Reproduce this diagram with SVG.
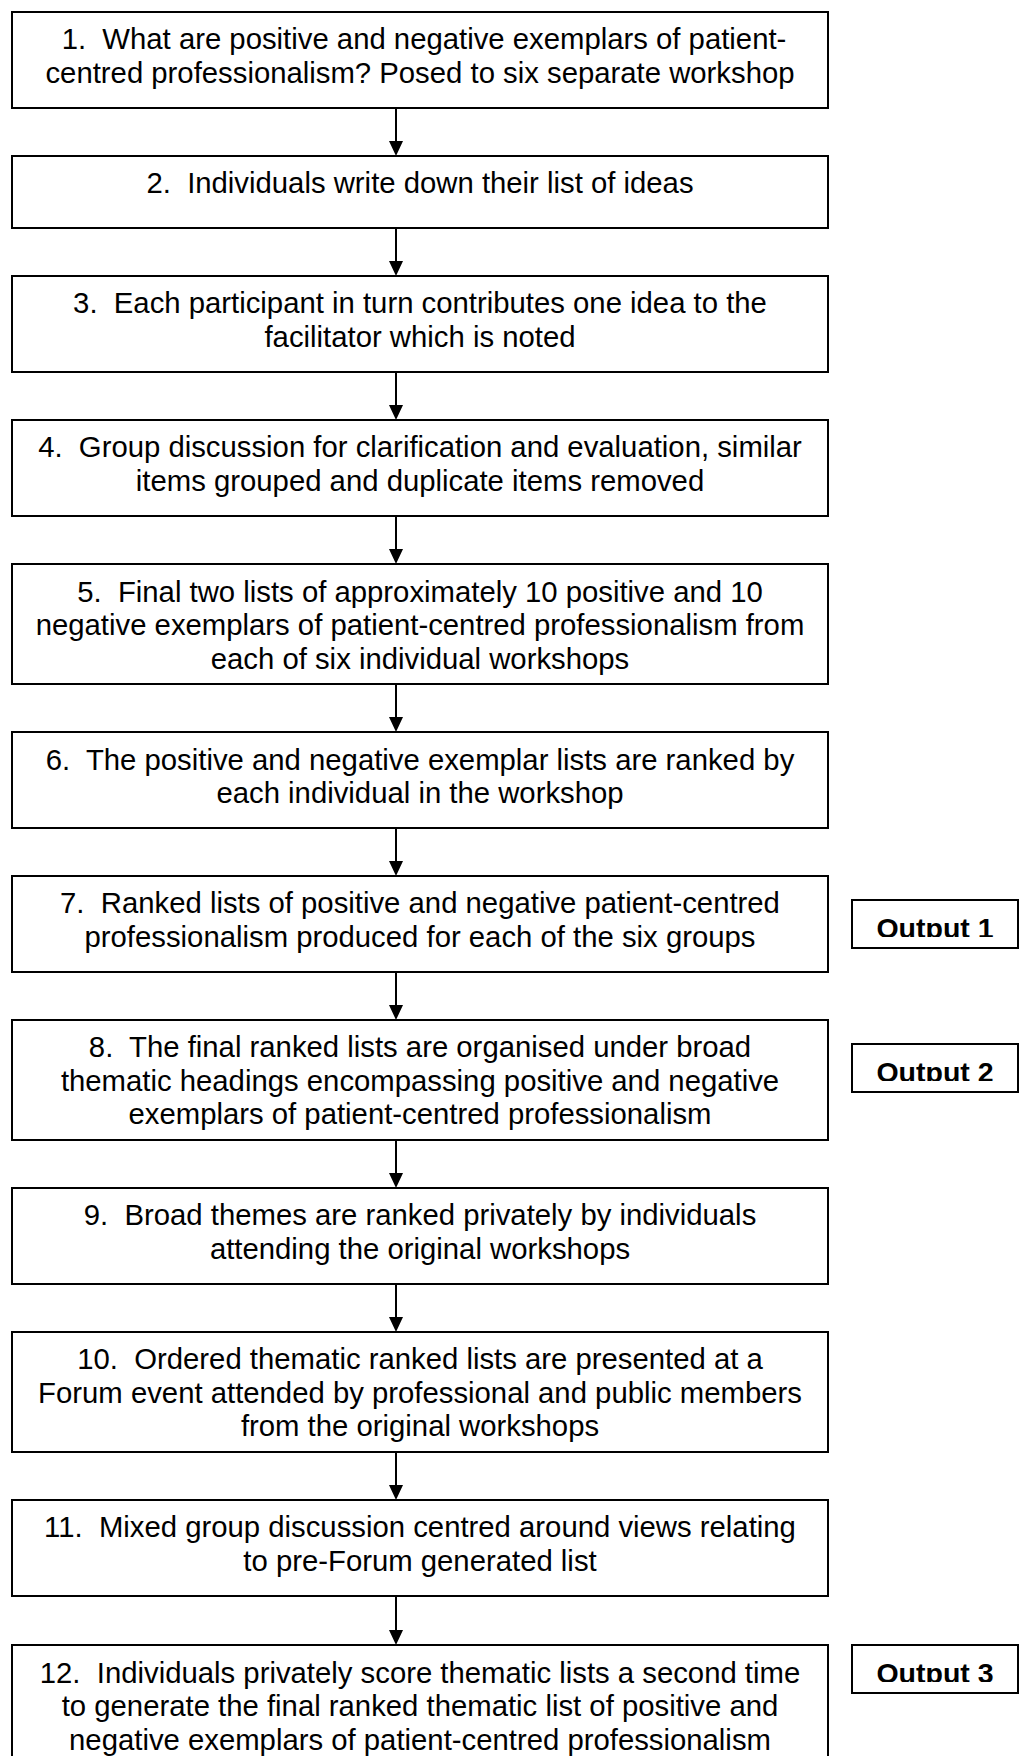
<svg xmlns="http://www.w3.org/2000/svg" width="1019" height="1756" viewBox="0 0 1019 1756">
<style>
.box{fill:#fff;stroke:#000;stroke-width:2}
.t{font-family:"Liberation Sans",Arial,sans-serif;font-size:29.3px;fill:#000;text-anchor:middle;white-space:pre}
.o{font-family:"Liberation Sans",Arial,sans-serif;font-size:28.5px;font-weight:bold;fill:#000;text-anchor:middle}
.c{stroke:#000;stroke-width:2;fill:none;marker-end:url(#ah)}
</style>
<defs>
<marker id="ah" markerUnits="userSpaceOnUse" viewBox="0 0 15 14" refX="7" refY="7" markerWidth="15" markerHeight="14" orient="auto">
<path d="M0,0 L15,7 L0,14 Z" fill="#000"/>
</marker>
<clipPath id="c1"><rect x="852" y="900" width="167" height="37"/></clipPath>
<clipPath id="c2"><rect x="852" y="1044" width="167" height="37"/></clipPath>
<clipPath id="c3"><rect x="852" y="1645" width="167" height="37"/></clipPath>
</defs>
<rect width="1019" height="1756" fill="#fff"/>
<g id="connectors">
<line class="c" x1="396" y1="108" x2="396" y2="148"/>
<line class="c" x1="396" y1="228" x2="396" y2="268"/>
<line class="c" x1="396" y1="372" x2="396" y2="412"/>
<line class="c" x1="396" y1="516" x2="396" y2="556"/>
<line class="c" x1="396" y1="684" x2="396" y2="724"/>
<line class="c" x1="396" y1="828" x2="396" y2="868"/>
<line class="c" x1="396" y1="972" x2="396" y2="1012"/>
<line class="c" x1="396" y1="1140" x2="396" y2="1180"/>
<line class="c" x1="396" y1="1284" x2="396" y2="1324"/>
<line class="c" x1="396" y1="1452" x2="396" y2="1492"/>
<line class="c" x1="396" y1="1596" x2="396" y2="1637"/>
</g>
<g id="n1"><rect class="box" x="12" y="12" width="816" height="96"/>
<text class="t" xml:space="preserve"><tspan x="424" y="49">1.  What are positive and negative exemplars of patient-</tspan><tspan x="420" y="82.7">centred professionalism? Posed to six separate workshop</tspan></text></g>
<g id="n2"><rect class="box" x="12" y="156" width="816" height="72"/>
<text class="t" xml:space="preserve"><tspan x="420" y="193">2.  Individuals write down their list of ideas</tspan></text></g>
<g id="n3"><rect class="box" x="12" y="276" width="816" height="96"/>
<text class="t" xml:space="preserve"><tspan x="420" y="313">3.  Each participant in turn contributes one idea to the</tspan><tspan x="420" y="346.7">facilitator which is noted</tspan></text></g>
<g id="n4"><rect class="box" x="12" y="420" width="816" height="96"/>
<text class="t" xml:space="preserve"><tspan x="420" y="457">4.  Group discussion for clarification and evaluation, similar</tspan><tspan x="420" y="490.7">items grouped and duplicate items removed</tspan></text></g>
<g id="n5"><rect class="box" x="12" y="564" width="816" height="120"/>
<text class="t" xml:space="preserve"><tspan x="420" y="601.5">5.  Final two lists of approximately 10 positive and 10</tspan><tspan x="420" y="635.2">negative exemplars of patient-centred professionalism from</tspan><tspan x="420" y="668.9">each of six individual workshops</tspan></text></g>
<g id="n6"><rect class="box" x="12" y="732" width="816" height="96"/>
<text class="t" xml:space="preserve"><tspan x="420" y="769.5">6.  The positive and negative exemplar lists are ranked by</tspan><tspan x="420" y="803.2">each individual in the workshop</tspan></text></g>
<g id="n7"><rect class="box" x="12" y="876" width="816" height="96"/>
<text class="t" xml:space="preserve"><tspan x="420" y="913">7.  Ranked lists of positive and negative patient-centred</tspan><tspan x="420" y="946.7">professionalism produced for each of the six groups</tspan></text></g>
<g id="n8"><rect class="box" x="12" y="1020" width="816" height="120"/>
<text class="t" xml:space="preserve"><tspan x="420" y="1057">8.  The final ranked lists are organised under broad</tspan><tspan x="420" y="1090.7">thematic headings encompassing positive and negative</tspan><tspan x="420" y="1124.4">exemplars of patient-centred professionalism</tspan></text></g>
<g id="n9"><rect class="box" x="12" y="1188" width="816" height="96"/>
<text class="t" xml:space="preserve"><tspan x="420" y="1225">9.  Broad themes are ranked privately by individuals</tspan><tspan x="420" y="1258.7">attending the original workshops</tspan></text></g>
<g id="n10"><rect class="box" x="12" y="1332" width="816" height="120"/>
<text class="t" xml:space="preserve"><tspan x="420" y="1369">10.  Ordered thematic ranked lists are presented at a</tspan><tspan x="420" y="1402.7">Forum event attended by professional and public members</tspan><tspan x="420" y="1436.4">from the original workshops</tspan></text></g>
<g id="n11"><rect class="box" x="12" y="1500" width="816" height="96"/>
<text class="t" xml:space="preserve"><tspan x="420" y="1537">11.  Mixed group discussion centred around views relating</tspan><tspan x="420" y="1570.7">to pre-Forum generated list</tspan></text></g>
<g id="n12"><rect class="box" x="12" y="1645" width="816" height="130"/>
<text class="t" xml:space="preserve"><tspan x="420" y="1682.5">12.  Individuals privately score thematic lists a second time</tspan><tspan x="420" y="1716.2">to generate the final ranked thematic list of positive and</tspan><tspan x="420" y="1749.9">negative exemplars of patient-centred professionalism</tspan></text></g>
<g id="out1"><rect class="box" x="852" y="900" width="166" height="48"/>
<text class="o" x="935" y="938" clip-path="url(#c1)">Output 1</text></g>
<g id="out2"><rect class="box" x="852" y="1044" width="166" height="48"/>
<text class="o" x="935" y="1082" clip-path="url(#c2)">Output 2</text></g>
<g id="out3"><rect class="box" x="852" y="1645" width="166" height="48"/>
<text class="o" x="935" y="1683" clip-path="url(#c3)">Output 3</text></g>
</svg>
